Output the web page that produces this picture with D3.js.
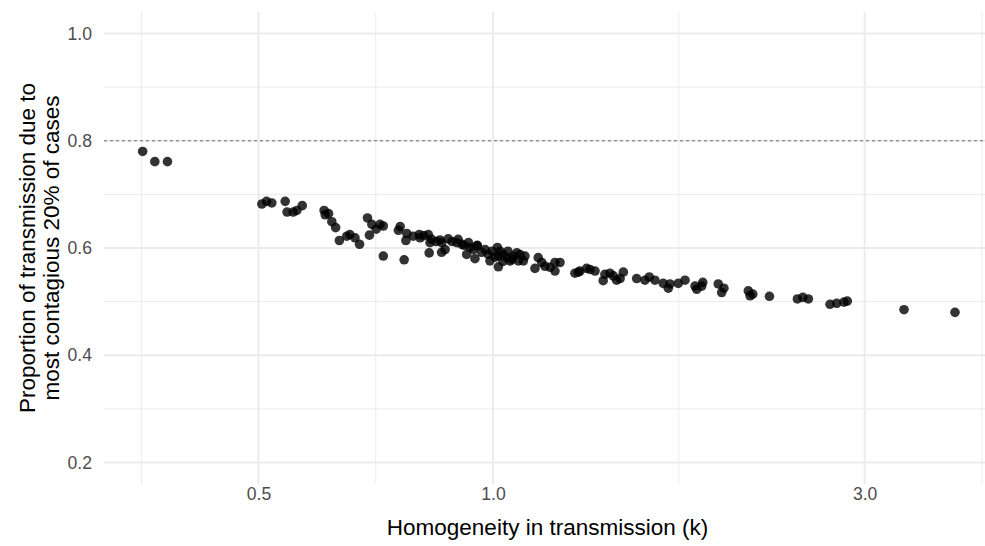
<!DOCTYPE html>
<html>
<head>
<meta charset="utf-8">
<script src="https://cdn.jsdelivr.net/npm/d3@7"></script>
<style>
  body { margin: 0; background: #fff; }
  svg text { font-family: "Liberation Sans", Arial, sans-serif; }
</style>
</head>
<body>
<div class="chart"></div>
<script>
// k values (homogeneity) and matching proportions
const kValues = [
  0.355, 0.368, 0.382, 0.505, 0.512, 0.520, 0.541, 0.544, 0.554, 0.560,
  0.569, 0.607, 0.609, 0.615, 0.621, 0.628, 0.635, 0.649, 0.655, 0.665,
  0.674, 0.690, 0.699, 0.694, 0.708, 0.723, 0.716, 0.760, 0.756, 0.775,
  0.773, 0.790, 0.804, 0.806, 0.826, 0.834, 0.830, 0.855, 0.859, 0.876,
  0.898, 0.912, 0.930, 0.934, 0.944, 0.953, 0.925, 0.723, 0.769, 0.828,
  0.859, 0.868, 0.955, 0.948, 0.967, 0.986, 0.991, 1.013, 1.016, 1.016,
  1.031, 1.041, 1.052, 1.062, 1.073, 1.078, 1.099, 1.094, 1.143, 1.132,
  1.155, 1.166, 1.184, 1.201, 1.201, 1.219, 1.287, 1.274, 1.293, 1.319,
  1.332, 1.352, 1.385, 1.392, 1.413, 1.427, 1.441, 1.456, 1.470, 1.529,
  1.567, 1.587, 1.614, 1.654, 1.679, 1.687, 1.729, 1.764, 1.817, 1.826,
  1.859, 1.853, 1.946, 1.966, 1.979, 2.127, 2.138, 2.155, 2.264, 2.459,
  2.499, 2.540, 2.708, 2.762, 2.822, 2.850, 3.370, 3.918,
  0.977, 0.997, 1.021, 1.045, 1.006, 1.030, 1.058, 1.083, 0.886, 0.902,
  0.918, 0.815, 0.845
];
const propValues = [
  0.780, 0.761, 0.761, 0.682, 0.687, 0.684, 0.687, 0.667, 0.667, 0.670,
  0.679, 0.670, 0.662, 0.664, 0.649, 0.638, 0.614, 0.622, 0.625, 0.619,
  0.607, 0.656, 0.644, 0.624, 0.635, 0.641, 0.644, 0.640, 0.633, 0.627,
  0.614, 0.622, 0.625, 0.619, 0.625, 0.616, 0.610, 0.615, 0.610, 0.617,
  0.610, 0.607, 0.610, 0.601, 0.597, 0.604, 0.588, 0.585, 0.578, 0.591,
  0.592, 0.597, 0.605, 0.580, 0.592, 0.588, 0.576, 0.601, 0.585, 0.565,
  0.588, 0.582, 0.576, 0.585, 0.591, 0.576, 0.585, 0.576, 0.582, 0.562,
  0.573, 0.566, 0.564, 0.557, 0.573, 0.573, 0.555, 0.553, 0.557, 0.562,
  0.560, 0.557, 0.539, 0.551, 0.553, 0.548, 0.540, 0.543, 0.555, 0.543,
  0.540, 0.546, 0.540, 0.534, 0.525, 0.533, 0.534, 0.540, 0.529, 0.523,
  0.536, 0.529, 0.533, 0.517, 0.525, 0.520, 0.511, 0.514, 0.510, 0.505,
  0.508, 0.505, 0.495, 0.497, 0.499, 0.501, 0.485, 0.480,
  0.597, 0.594, 0.594, 0.594, 0.583, 0.575, 0.579, 0.588, 0.612, 0.616,
  0.605, 0.623, 0.612
];
const xTicks = [0.5, 1.0, 3.0];
const xMinor = [Math.SQRT1_2 / 2, Math.SQRT1_2, Math.sqrt(3), 3 * Math.SQRT2];
const yTicks = [0.2, 0.4, 0.6, 0.8, 1.0];
const yMinor = [0.3, 0.5, 0.7, 0.9];
const refLine = 0.8;

const data = kValues.map((k, i) => ({ k: k, p: propValues[i] }));

const w = 985;
const h = 546;
const padLeft = 104, padRight = 985, padTop = 12, padBottom = 484;

const svg = d3.select('.chart')
  .append('svg')
  .attr('width', w)
  .attr('height', h);

const xScale = d3.scaleLog()
  .domain([Math.pow(10, -0.4994), Math.pow(10, 0.6316)])
  .range([padLeft, padRight]);

const yScale = d3.scaleLinear()
  .domain([0.16, 1.04])
  .range([padBottom, padTop]);

// Grid
const grid = svg.append('g').attr('class', 'grid');
grid.selectAll('.yminor').data(yMinor).enter().append('line')
  .attr('x1', padLeft).attr('x2', padRight)
  .attr('y1', d => yScale(d)).attr('y2', d => yScale(d))
  .attr('stroke', '#ebebeb').attr('stroke-width', 1);
grid.selectAll('.xminor').data(xMinor).enter().append('line')
  .attr('y1', padTop).attr('y2', padBottom)
  .attr('x1', d => xScale(d)).attr('x2', d => xScale(d))
  .attr('stroke', '#ebebeb').attr('stroke-width', 1);
grid.selectAll('.ymajor').data(yTicks).enter().append('line')
  .attr('x1', padLeft).attr('x2', padRight)
  .attr('y1', d => yScale(d)).attr('y2', d => yScale(d))
  .attr('stroke', '#ebebeb').attr('stroke-width', 2);
grid.selectAll('.xmajor').data(xTicks).enter().append('line')
  .attr('y1', padTop).attr('y2', padBottom)
  .attr('x1', d => xScale(d)).attr('x2', d => xScale(d))
  .attr('stroke', '#ebebeb').attr('stroke-width', 2);

// Reference line
svg.append('line')
  .attr('x1', padLeft).attr('x2', padRight)
  .attr('y1', yScale(refLine)).attr('y2', yScale(refLine))
  .attr('stroke', '#6e6e6e')
  .attr('stroke-width', 1.2)
  .attr('stroke-dasharray', '3,3');

// Points
svg.append('g')
  .selectAll('circle')
  .data(data)
  .enter()
  .append('circle')
  .attr('cx', d => xScale(d.k))
  .attr('cy', d => yScale(d.p))
  .attr('r', 4.8)
  .attr('fill', '#000')
  .attr('fill-opacity', 0.8);

// Axes (no lines, only labels)
const xAxis = d3.axisBottom(xScale)
  .tickValues(xTicks)
  .tickFormat(d3.format('.1f'))
  .tickSize(0)
  .tickPadding(3);
const xAxisG = svg.append('g')
  .attr('transform', `translate(0,${padBottom})`)
  .call(xAxis);

const yAxis = d3.axisLeft(yScale)
  .tickValues(yTicks)
  .tickFormat(d3.format('.1f'))
  .tickSize(0)
  .tickPadding(12);
const yAxisG = svg.append('g')
  .attr('transform', `translate(${padLeft},0)`)
  .call(yAxis);

[xAxisG, yAxisG].forEach(g => {
  g.select('.domain').remove();
  g.selectAll('.tick text')
    .style('font-size', '17.6px')
    .style('font-family', '"Liberation Sans", Arial, sans-serif')
    .attr('fill', '#4d4d4d');
});

// Axis titles
svg.append('text')
  .attr('x', (padLeft + padRight) / 2 + 3)
  .attr('y', 535)
  .attr('text-anchor', 'middle')
  .style('font-size', '22.5px')
  .attr('fill', '#000')
  .text('Homogeneity in transmission (k)');

const yTitle = svg.append('text')
  .attr('transform', `translate(35,${(padTop + padBottom) / 2}) rotate(-90)`)
  .attr('text-anchor', 'middle')
  .style('font-size', '22.5px')
  .attr('fill', '#000');
yTitle.append('tspan').attr('x', 0).attr('dy', 0).text('Proportion of transmission due to');
yTitle.append('tspan').attr('x', 0).attr('dy', 24).text('most contagious 20% of cases');
</script>
</body>
</html>
